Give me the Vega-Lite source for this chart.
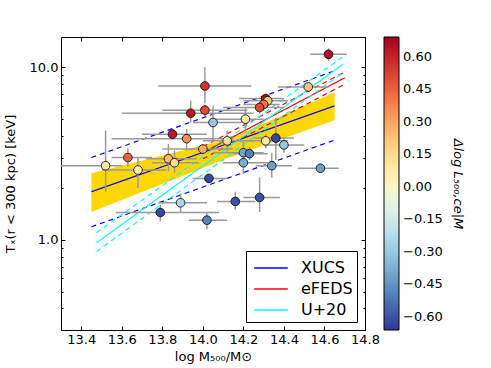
{
  "$schema": "https://vega.github.io/schema/vega-lite/v6.json",
  "width": 304,
  "height": 293,
  "autosize": "none",
  "padding": {"left": 61, "top": 37, "right": 126, "bottom": 38},
  "background": "white",
  "config": {
    "font": "DejaVu Sans",
    "view": {"stroke": "black", "strokeWidth": 1},
    "axis": {"grid": false, "domain": false, "tickColor": "black", "labelColor": "black", "titleColor": "black", "labelFont": "DejaVu Sans", "titleFont": "DejaVu Sans", "labelFontSize": 13, "titleFontSize": 13, "titleFontWeight": "normal"},
    "legend": {"labelFont": "DejaVu Sans", "titleFont": "DejaVu Sans"}
  },
  "datasets": {
    "band": [
      {"x": 13.45, "lo": 1.45, "hi": 2.43},
      {"x": 14.13, "lo": 3.0, "hi": 3.85},
      {"x": 14.65, "lo": 4.94, "hi": 7.14}
    ],
    "lines": [
      {"x": 13.45, "y": 1.9, "line": "xc", "name": "XUCS", "dash": "solid"},
      {"x": 14.65, "y": 5.98, "line": "xc", "name": "XUCS", "dash": "solid"},
      {"x": 13.45, "y": 3.0, "line": "xh", "name": "XUCS", "dash": "dashed"},
      {"x": 14.65, "y": 9.55, "line": "xh", "name": "XUCS", "dash": "dashed"},
      {"x": 13.45, "y": 1.19, "line": "xl", "name": "XUCS", "dash": "dashed"},
      {"x": 14.65, "y": 3.79, "line": "xl", "name": "XUCS", "dash": "dashed"},
      {"x": 14.0, "y": 3.2, "line": "ec", "name": "eFEDS", "dash": "solid"},
      {"x": 14.7, "y": 8.7, "line": "ec", "name": "eFEDS", "dash": "solid"},
      {"x": 14.0, "y": 3.47, "line": "eh", "name": "eFEDS", "dash": "dashed"},
      {"x": 14.7, "y": 9.4, "line": "eh", "name": "eFEDS", "dash": "dashed"},
      {"x": 14.0, "y": 2.95, "line": "el", "name": "eFEDS", "dash": "dashed"},
      {"x": 14.7, "y": 8.0, "line": "el", "name": "eFEDS", "dash": "dashed"},
      {"x": 13.475, "y": 0.96, "line": "uc", "name": "U+20", "dash": "solid"},
      {"x": 14.69, "y": 10.4, "line": "uc", "name": "U+20", "dash": "solid"},
      {"x": 13.475, "y": 1.1, "line": "uh", "name": "U+20", "dash": "dashed"},
      {"x": 14.69, "y": 11.5, "line": "uh", "name": "U+20", "dash": "dashed"},
      {"x": 13.475, "y": 0.855, "line": "ul", "name": "U+20", "dash": "dashed"},
      {"x": 14.69, "y": 9.3, "line": "ul", "name": "U+20", "dash": "dashed"}
    ],
    "pts": [
      {"x": 14.01, "y": 7.8, "xlo": 13.78, "xhi": 14.24, "ylo": 6.2, "yhi": 10.0, "c": 0.55},
      {"x": 13.94, "y": 5.42, "xlo": 13.6, "xhi": 14.25, "ylo": 4.8, "yhi": 6.4, "c": 0.62},
      {"x": 14.01, "y": 5.65, "xlo": 13.8, "xhi": 14.22, "ylo": 5.2, "yhi": 6.1, "c": 0.5},
      {"x": 14.05, "y": 4.79, "xlo": 13.95, "xhi": 14.22, "ylo": 3.7, "yhi": 6.0, "c": -0.3},
      {"x": 13.85, "y": 4.1, "xlo": 13.7, "xhi": 14.02, "ylo": 3.8, "yhi": 4.4, "c": 0.62},
      {"x": 13.92, "y": 3.86, "xlo": 13.55, "xhi": 14.15, "ylo": 3.3, "yhi": 4.4, "c": 0.35},
      {"x": 13.63, "y": 3.0, "xlo": 13.55, "xhi": 13.75, "ylo": 2.65, "yhi": 3.4, "c": 0.45},
      {"x": 13.52, "y": 2.69, "xlo": 13.3, "xhi": 13.6, "ylo": 1.9, "yhi": 4.3, "c": 0.1},
      {"x": 13.68, "y": 2.54, "xlo": 13.5, "xhi": 13.82, "ylo": 2.0, "yhi": 3.0, "c": 0.08},
      {"x": 13.83, "y": 2.95, "xlo": 13.72, "xhi": 13.97, "ylo": 2.5, "yhi": 3.6, "c": 0.25},
      {"x": 13.86, "y": 2.8, "xlo": 13.75, "xhi": 13.98, "ylo": 2.45, "yhi": 3.3, "c": 0.15},
      {"x": 14.0, "y": 3.36, "xlo": 13.8, "xhi": 14.15, "ylo": 3.1, "yhi": 3.6, "c": 0.28},
      {"x": 14.03, "y": 2.27, "xlo": 13.95, "xhi": 14.12, "ylo": 2.27, "yhi": 2.27, "c": -0.62},
      {"x": 14.12, "y": 3.75, "xlo": 14.0, "xhi": 14.25, "ylo": 3.2, "yhi": 4.3, "c": 0.15},
      {"x": 14.62, "y": 11.9, "xlo": 14.53, "xhi": 14.71, "ylo": 10.9, "yhi": 12.9, "c": 0.65},
      {"x": 14.52, "y": 7.7, "xlo": 14.37, "xhi": 14.62, "ylo": 7.3, "yhi": 8.1, "c": 0.22},
      {"x": 14.21, "y": 5.01, "xlo": 14.05, "xhi": 14.3, "ylo": 4.2, "yhi": 5.9, "c": 0.1},
      {"x": 14.31, "y": 6.6, "xlo": 14.18, "xhi": 14.4, "ylo": 6.2, "yhi": 7.0, "c": 0.65},
      {"x": 14.32, "y": 6.4, "xlo": 14.2, "xhi": 14.42, "ylo": 6.0, "yhi": 6.8, "c": 0.2},
      {"x": 14.3, "y": 6.1, "xlo": 14.2, "xhi": 14.38, "ylo": 5.6, "yhi": 6.6, "c": 0.4},
      {"x": 14.28, "y": 5.85, "xlo": 14.1, "xhi": 14.4, "ylo": 5.4, "yhi": 6.3, "c": 0.5},
      {"x": 14.31, "y": 3.75, "xlo": 14.2, "xhi": 14.42, "ylo": 3.4, "yhi": 4.1, "c": 0.08},
      {"x": 14.36, "y": 3.89, "xlo": 14.25, "xhi": 14.45, "ylo": 2.9, "yhi": 5.1, "c": -0.62},
      {"x": 14.4, "y": 3.55, "xlo": 14.3, "xhi": 14.5, "ylo": 3.2, "yhi": 3.9, "c": -0.3},
      {"x": 14.2, "y": 3.2, "xlo": 14.05, "xhi": 14.3, "ylo": 2.8, "yhi": 3.7, "c": -0.4},
      {"x": 14.23, "y": 3.16, "xlo": 14.15, "xhi": 14.32, "ylo": 2.9, "yhi": 3.45, "c": -0.5},
      {"x": 14.2, "y": 2.8, "xlo": 14.1, "xhi": 14.32, "ylo": 2.4, "yhi": 3.3, "c": -0.38},
      {"x": 14.34, "y": 2.69, "xlo": 14.26, "xhi": 14.44, "ylo": 2.3, "yhi": 3.2, "c": -0.42},
      {"x": 14.58, "y": 2.6, "xlo": 14.47, "xhi": 14.67, "ylo": 2.6, "yhi": 2.6, "c": -0.42},
      {"x": 14.16, "y": 1.67, "xlo": 14.07, "xhi": 14.26, "ylo": 1.5, "yhi": 1.9, "c": -0.6},
      {"x": 13.89, "y": 1.64, "xlo": 13.78, "xhi": 14.02, "ylo": 1.45, "yhi": 1.85, "c": -0.25},
      {"x": 13.79, "y": 1.44, "xlo": 13.57, "xhi": 14.08, "ylo": 1.28, "yhi": 1.6, "c": -0.62},
      {"x": 14.02, "y": 1.3, "xlo": 13.93, "xhi": 14.12, "ylo": 1.15, "yhi": 1.45, "c": -0.48},
      {"x": 14.28, "y": 1.76, "xlo": 14.2, "xhi": 14.38, "ylo": 1.45, "yhi": 2.3, "c": -0.6}
    ]
  },
  "resolve": {"scale": {"stroke": "independent", "fill": "independent"}, "axis": {"x": "independent", "y": "independent"}},
  "layer": [
    {
      "data": {"name": "band"},
      "mark": {"type": "area", "color": "#ffd700", "opacity": 1, "clip": true},
      "encoding": {
        "x": {"field": "x", "type": "quantitative", "scale": {"domain": [13.3, 14.8], "nice": false, "zero": false},
          "axis": {"orient": "bottom", "values": [13.4, 13.6, 13.8, 14.0, 14.2, 14.4, 14.6, 14.8], "format": ".1f", "tickSize": -4, "labelPadding": 7, "title": "log M₅₀₀/M⊙", "titlePadding": 4, "labelFlush": false}},
        "y": {"field": "lo", "type": "quantitative", "scale": {"type": "log", "domain": [0.3, 15], "nice": false},
          "axis": {"orient": "left", "values": [1, 10], "format": ".1f", "tickSize": -4, "labelPadding": 7, "title": "Tₓ(r < 300 kpc) [keV]", "titlePadding": 12}},
        "y2": {"field": "hi"}
      }
    },
    {
      "data": {"name": "lines"},
      "mark": {"type": "line", "strokeWidth": 1.2, "clip": true},
      "encoding": {
        "x": {"field": "x", "type": "quantitative", "axis": {"orient": "top", "values": [13.4, 13.6, 13.8, 14.0, 14.2, 14.4, 14.6, 14.8], "labels": false, "tickSize": -4, "title": null}},
        "y": {"field": "y", "type": "quantitative", "axis": {"orient": "right", "values": [1, 10], "labels": false, "tickSize": -4, "title": null}},
        "detail": {"field": "line"},
        "stroke": {"field": "name", "type": "nominal", "scale": {"domain": ["XUCS", "eFEDS", "U+20"], "range": ["#0000ff", "#ff0000", "#00ffff"]},
          "legend": {"orient": "bottom-right", "offset": 8, "title": null, "strokeColor": "black", "fillColor": "white", "padding": 4, "symbolType": "M-1.4,0H1.4", "symbolSize": 576, "symbolOffset": 8, "symbolStrokeWidth": 1.5, "symbolOpacity": 1, "symbolFillColor": "transparent", "labelFontSize": 16, "labelOffset": 17, "rowPadding": 0, "labelColor": "black", "cornerRadius": 0}},
        "strokeDash": {"field": "dash", "type": "nominal", "scale": {"domain": ["solid", "dashed"], "range": [[1, 0], [5, 4]]}, "legend": null}
      }
    },
    {
      "data": {"name": "pts"},
      "mark": {"type": "rule", "color": "#999999", "strokeWidth": 1.5, "clip": true},
      "encoding": {
        "x": {"field": "xlo", "type": "quantitative", "axis": null},
        "x2": {"field": "xhi"},
        "y": {"field": "y", "type": "quantitative", "axis": {"orient": "left", "values": [0.3, 0.4, 0.5, 0.6, 0.7, 0.8, 0.9, 2, 3, 4, 5, 6, 7, 8, 9], "labels": false, "tickSize": -2, "title": null}}
      }
    },
    {
      "data": {"name": "pts"},
      "mark": {"type": "rule", "color": "#999999", "strokeWidth": 1.5, "clip": true},
      "encoding": {
        "x": {"field": "x", "type": "quantitative", "axis": null},
        "y": {"field": "ylo", "type": "quantitative", "axis": {"orient": "right", "values": [0.3, 0.4, 0.5, 0.6, 0.7, 0.8, 0.9, 2, 3, 4, 5, 6, 7, 8, 9], "labels": false, "tickSize": -2, "title": null}},
        "y2": {"field": "yhi"}
      }
    },
    {
      "data": {"name": "pts"},
      "mark": {"type": "point", "shape": "circle", "filled": true, "size": 75, "stroke": "black", "strokeWidth": 0.8, "opacity": 1},
      "encoding": {
        "x": {"field": "x", "type": "quantitative", "axis": null},
        "y": {"field": "y", "type": "quantitative", "axis": null},
        "fill": {"field": "c", "type": "quantitative", "scale": {"scheme": "redyellowblue", "reverse": true, "domain": [-0.66, 0.69]},
          "legend": {"orient": "right", "offset": 18, "type": "gradient", "direction": "vertical", "gradientLength": 293, "gradientThickness": 15, "gradientStrokeColor": "black", "gradientStrokeWidth": 1, "values": [-0.6, -0.45, -0.3, -0.15, 0, 0.15, 0.3, 0.45, 0.6], "format": ".2f", "labelFontSize": 13, "labelColor": "black", "labelOffset": 4, "title": "Δlog L₅₀₀,ce|M", "titleOrient": "right", "titleAngle": 90, "titleFontSize": 13, "titleFontWeight": "normal", "titleFontStyle": "italic", "titleColor": "black", "titleAlign": "center", "titleBaseline": "bottom", "titlePadding": 8, "padding": 0}}
      }
    }
  ]
}
